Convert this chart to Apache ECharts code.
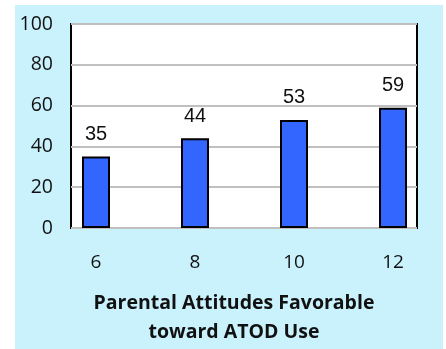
<!DOCTYPE html>
<html>
<head>
<meta charset="utf-8">
<script src="https://cdn.jsdelivr.net/npm/echarts@6/dist/echarts.min.js"></script>
<style>
  html, body { margin: 0; padding: 0; background: #ffffff; }
  #chart { width: 446px; height: 349px; }
</style>
</head>
<body>
<div id="chart"></div>
<script>
// Grade levels and percentage of students reporting the risk factor
const grades = ['6', '8', '10', '12'];
const percents = [35, 44, 53, 59];
const yTicks = [0, 20, 40, 60, 80, 100];
const chartTitle = 'Parental Attitudes Favorable\ntoward ATOD Use';

const chart = echarts.init(document.getElementById('chart'), null, { renderer: 'canvas' });

const axisFont = '"Open Sans", "DejaVu Sans", sans-serif';
const yMin = yTicks[0];
const yMax = yTicks[yTicks.length - 1];

chart.setOption({
  animation: false,
  graphic: [{
    type: 'rect',
    left: 15, top: 5,
    shape: { width: 428, height: 344 },
    style: { fill: '#c9f2fd' },
    z: -10
  }],
  title: {
    text: chartTitle,
    left: 229, top: 284,
    textAlign: 'center',
    textStyle: {
      fontFamily: axisFont,
      fontWeight: 'bold',
      fontSize: 19.5,
      lineHeight: 29,
      color: '#111111'
    }
  },
  grid: [
    // framed plot area carrying the value scale and gridlines
    {
      left: 71, top: 24, width: 346, height: 204,
      show: true,
      backgroundColor: '#ffffff',
      borderColor: '#000000',
      borderWidth: 2
    },
    // category span for the bars, grade 6 to grade 12
    { left: 96, top: 24, width: 297, height: 204 }
  ],
  xAxis: [
    { gridIndex: 0, type: 'value', show: false, min: 0, max: 1 },
    {
      gridIndex: 1,
      type: 'category',
      data: grades,
      boundaryGap: false,
      axisLine: { show: false },
      axisTick: { show: false },
      splitLine: { show: false },
      axisLabel: {
        margin: 25,
        fontFamily: axisFont,
        fontSize: 19,
        color: '#111111'
      }
    }
  ],
  yAxis: [
    {
      gridIndex: 0,
      type: 'value',
      min: yMin,
      max: yMax,
      interval: 20,
      axisLine: { show: false },
      axisTick: { show: false },
      splitLine: { show: true, lineStyle: { color: '#c0c0c0', width: 2 } },
      axisLabel: {
        margin: 18,
        fontFamily: axisFont,
        fontSize: 19.5,
        color: '#111111'
      }
    },
    {
      gridIndex: 1,
      type: 'value',
      min: yMin,
      max: yMax,
      show: false,
      splitLine: { show: false }
    }
  ],
  series: [{
    type: 'bar',
    xAxisIndex: 1,
    yAxisIndex: 1,
    data: percents,
    barWidth: 28,
    itemStyle: {
      color: '#3366ff',
      borderColor: '#000000',
      borderWidth: 2
    },
    label: {
      show: true,
      position: 'top',
      distance: 12,
      fontFamily: 'Arial, "Liberation Sans", sans-serif',
      fontSize: 20,
      color: '#111111'
    }
  }]
});
</script>
</body>
</html>
